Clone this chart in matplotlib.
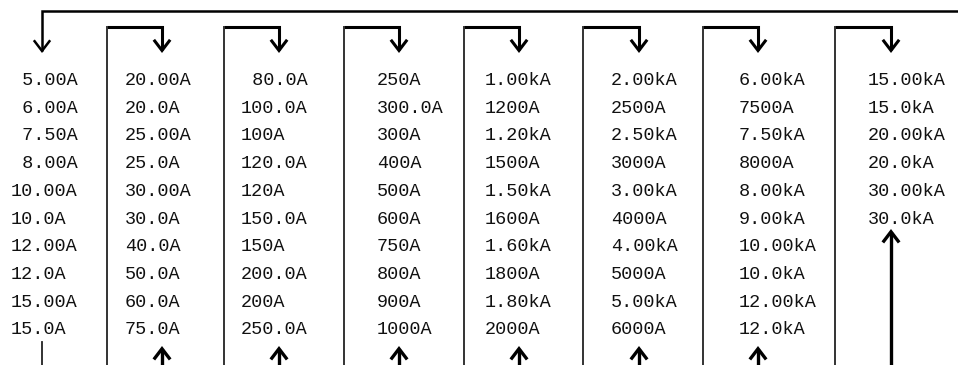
import matplotlib.pyplot as plt
from matplotlib.patches import FancyArrowPatch
from matplotlib.path import Path

# range steps, one list per column (leading space = right aligned in the original)
col1 = [" 5.00A", " 6.00A", " 7.50A", " 8.00A", "10.00A", "10.0A", "12.00A", "12.0A", "15.00A", "15.0A"]
col2 = ["20.00A", "20.0A", "25.00A", "25.0A", "30.00A", "30.0A", "40.0A", "50.0A", "60.0A", "75.0A"]
col3 = [" 80.0A", "100.0A", "100A", "120.0A", "120A", "150.0A", "150A", "200.0A", "200A", "250.0A"]
col4 = ["250A", "300.0A", "300A", "400A", "500A", "600A", "750A", "800A", "900A", "1000A"]
col5 = ["1.00kA", "1200A", "1.20kA", "1500A", "1.50kA", "1600A", "1.60kA", "1800A", "1.80kA", "2000A"]
col6 = ["2.00kA", "2500A", "2.50kA", "3000A", "3.00kA", "4000A", "4.00kA", "5000A", "5.00kA", "6000A"]
col7 = ["6.00kA", "7500A", "7.50kA", "8000A", "8.00kA", "9.00kA", "10.00kA", "10.0kA", "12.00kA", "12.0kA"]
col8 = ["15.00kA", "15.0kA", "20.00kA", "20.0kA", "30.00kA", "30.0kA"]
columns = [col1, col2, col3, col4, col5, col6, col7, col8]

# layout in pixels (figure is 958 x 365, y grows downward)
W, H = 958, 365
text_x = [11, 125, 241, 377, 485, 611, 739, 868]
arrow_x = [42, 162, 279, 399, 519, 639, 758, 891]
frame_x = [107, 224, 344, 464, 583, 703, 835]
row0, row_step = 85, 27.7
top_y, frame_top, tip_y = 11, 26.5, 53
up_tip = 346

fig = plt.figure(figsize=(W / 100, H / 100), dpi=100)
ax = fig.add_axes([0, 0, 1, 1])
ax.set_xlim(0, W)
ax.set_ylim(H, 0)
ax.axis("off")

for x0, labels in zip(text_x, columns):
    for i, s in enumerate(labels):
        ax.text(x0, row0 + i * row_step, s, ha="left", va="baseline",
                family="Liberation Mono", fontsize=13.3, color="#111111")

def arrow(pts, lw=2.2):
    p = FancyArrowPatch(path=Path(pts), arrowstyle="->,head_length=0.55,head_width=0.42",
                        mutation_scale=14, lw=lw, color="black",
                        shrinkA=0, shrinkB=0, joinstyle="miter", capstyle="butt")
    ax.add_patch(p)

# top return line into the first column
arrow([(W, top_y), (arrow_x[0], top_y), (arrow_x[0], tip_y)], lw=1.8)
ax.plot([arrow_x[0], arrow_x[0]], [342, H], color="#222222", lw=1.3)

# frames: left vertical, top connector with arrow down, arrow up from the bottom
for k, fx in enumerate(frame_x):
    ax.plot([fx, fx], [frame_top, H], color="#333333", lw=1.4)
    arrow([(fx, frame_top), (arrow_x[k + 1], frame_top), (arrow_x[k + 1], tip_y)])

for k, ax_x in enumerate(arrow_x[1:]):
    tip = up_tip if k < len(arrow_x) - 2 else 229
    arrow([(ax_x, H), (ax_x, tip)], lw=2.4)

fig.savefig("out.png", dpi=100)
